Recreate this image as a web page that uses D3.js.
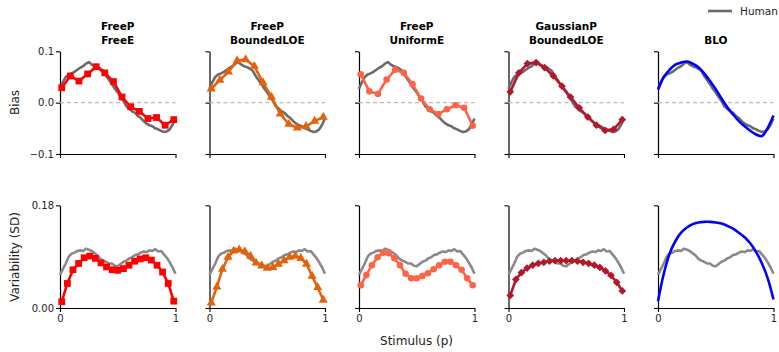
<!DOCTYPE html>
<html><head><meta charset="utf-8">
<script src="https://cdn.jsdelivr.net/npm/d3@7"></script>
<style>body{margin:0;background:#fff} svg{display:block;font-family:"DejaVu Sans",sans-serif}</style>
</head><body><svg id="c" width="779" height="352"></svg>
<script>
// ---------- data ----------
const humanP = [0,0.025,0.05,0.075,0.1,0.125,0.15,0.175,0.2,0.225,0.25,0.275,0.3,0.325,0.35,0.375,0.4,0.425,0.45,0.475,0.5,0.525,0.55,0.575,0.6,0.625,0.65,0.675,0.7,0.725,0.75,0.775,0.8,0.825,0.85,0.875,0.9,0.925,0.95,0.975,1.0];
const humanBias = [0.027,0.040,0.050,0.055,0.057,0.060,0.064,0.068,0.071,0.076,0.079,0.074,0.071,0.069,0.066,0.062,0.052,0.044,0.036,0.027,0.020,0.011,0.003,-0.007,-0.012,-0.017,-0.020,-0.026,-0.030,-0.036,-0.041,-0.044,-0.046,-0.050,-0.052,-0.055,-0.057,-0.056,-0.052,-0.043,-0.031];
const humanSD = [0.058,0.068,0.078,0.090,0.095,0.097,0.100,0.101,0.100,0.104,0.102,0.100,0.096,0.092,0.086,0.083,0.081,0.078,0.078,0.074,0.073,0.077,0.081,0.083,0.087,0.089,0.093,0.094,0.097,0.099,0.098,0.101,0.100,0.103,0.099,0.100,0.094,0.088,0.080,0.071,0.060];

const biasP = [0.015,0.090,0.164,0.239,0.313,0.388,0.463,0.537,0.612,0.687,0.761,0.836,0.910,0.985];
const sdP = [0.015,0.064,0.112,0.161,0.209,0.258,0.306,0.355,0.403,0.452,0.500,0.549,0.597,0.646,0.694,0.743,0.791,0.840,0.888,0.937,0.985];
const bloP = [0,0.05,0.1,0.15,0.2,0.25,0.3,0.35,0.4,0.45,0.5,0.55,0.6,0.65,0.7,0.75,0.8,0.85,0.9,0.95,1.0];

const freeEBias = [0.029,0.052,0.042,0.056,0.070,0.058,0.041,0.011,-0.008,-0.017,-0.031,-0.029,-0.044,-0.033];
const boundedBias = [0.027,0.044,0.060,0.082,0.084,0.071,0.039,0.011,-0.022,-0.042,-0.049,-0.046,-0.036,-0.028];
const uniformBias = [0.055,0.022,0.017,0.045,0.064,0.058,0.036,0.008,-0.013,-0.022,-0.013,-0.005,-0.010,-0.045];
const gaussBias = [0.021,0.058,0.076,0.078,0.068,0.052,0.032,0.011,-0.010,-0.028,-0.044,-0.054,-0.052,-0.033];
const bloBias = [0.025,0.050,0.064,0.074,0.078,0.080,0.076,0.069,0.057,0.042,0.026,0.008,-0.009,-0.023,-0.036,-0.046,-0.055,-0.062,-0.065,-0.049,-0.025];

const freeESD = [0.011,0.043,0.067,0.078,0.088,0.091,0.087,0.079,0.072,0.067,0.066,0.069,0.075,0.082,0.086,0.088,0.084,0.075,0.063,0.043,0.012];
const boundedSD = [0.009,0.037,0.068,0.089,0.100,0.102,0.099,0.091,0.079,0.074,0.070,0.071,0.077,0.083,0.089,0.091,0.087,0.077,0.056,0.036,0.014];
const uniformSD = [0.040,0.058,0.075,0.089,0.097,0.096,0.087,0.075,0.060,0.052,0.052,0.056,0.061,0.068,0.075,0.081,0.081,0.075,0.067,0.052,0.040];
const gaussSD = [0.022,0.050,0.062,0.070,0.075,0.078,0.080,0.082,0.083,0.083,0.083,0.083,0.082,0.080,0.078,0.075,0.071,0.065,0.057,0.045,0.030];
const bloSD = [0.012,0.060,0.095,0.117,0.132,0.141,0.147,0.150,0.151,0.151,0.150,0.148,0.144,0.139,0.132,0.124,0.113,0.098,0.078,0.052,0.015];

const titles = [["FreeP","FreeE"],["FreeP","BoundedLOE"],["FreeP","UniformE"],["GaussianP","BoundedLOE"],["BLO"]];
const biasTicks = [-0.1,0.0,0.1];
const sdTicks = [0.00,0.18];
const xTicks = [0,1];

// ---------- layout ----------
const svg = d3.select("#c");
const colX = [60,209.5,359,508.5,658], pw = 115.5;
const topY0 = 51.3, topY1 = 154, botY0 = 205.3, botY1 = 308;

const models = [
  {bias:freeEBias, sd:freeESD, bp:biasP, sp:sdP, color:"#ff0000", sym:"square"},
  {bias:boundedBias, sd:boundedSD, bp:biasP, sp:sdP, color:"#e3620b", sym:"triangle"},
  {bias:uniformBias, sd:uniformSD, bp:biasP, sp:sdP, color:"#ff6347", sym:"circle"},
  {bias:gaussBias, sd:gaussSD, bp:biasP, sp:sdP, color:"#b2182b", sym:"diamond"},
  {bias:bloBias, sd:bloSD, bp:bloP, sp:bloP, color:"#0000ff", sym:null}
];

function symPath(s){
  if(s==="square") return d3.symbol(d3.symbolSquare, 46)();
  if(s==="triangle") return d3.symbol(d3.symbolTriangle, 36)();
  if(s==="circle") return d3.symbol(d3.symbolCircle, 34)();
  if(s==="diamond") return d3.symbol(d3.symbolSquare, 30)();
}

models.forEach((m,i)=>{
  const x = d3.scaleLinear().domain([0,1]).range([colX[i], colX[i]+pw]);
  const yB = d3.scaleLinear().domain([-0.1,0.1]).range([topY1, topY0]);
  const yS = d3.scaleLinear().domain([0,0.18]).range([botY1, botY0]);

  // axes
  [[yB,biasTicks,topY1,d3.format(".1f")],[yS,sdTicks,botY1,d3.format(".2f")]].forEach(([y,tv,by,fmt],r)=>{
    const ga = svg.append("g").attr("transform",`translate(${colX[i]},0)`)
      .call(d3.axisLeft(y).tickValues(tv).tickSize(4).tickSizeOuter(0).tickPadding(2)
        .tickFormat(i===0 ? (d=>fmt(d).replace("-","\u2212")) : ""));
    const gx = svg.append("g").attr("transform",`translate(0,${by})`)
      .call(d3.axisBottom(x).tickValues(xTicks).tickSize(4).tickSizeOuter(0).tickPadding(3)
        .tickFormat(r===1 ? d3.format("d") : ""));
    [ga,gx].forEach(g=>{
      g.selectAll("path.domain").attr("stroke","#000").attr("stroke-width",1.2);
      g.selectAll(".tick line").attr("stroke","#000").attr("stroke-width",1.1);
      g.selectAll("text").attr("font-size",10).attr("fill","#222").attr("font-family","DejaVu Sans");
    });
  });

  // zero line
  svg.append("line").attr("x1",x(0)).attr("x2",x(1)).attr("y1",yB(0)).attr("y2",yB(0))
    .attr("stroke","#bbbbbb").attr("stroke-width",1.1).attr("stroke-dasharray","4,3");

  // human
  const hb = d3.line().x((d,k)=>x(humanP[k])).y(d=>yB(d));
  const hs = d3.line().x((d,k)=>x(humanP[k])).y(d=>yS(d));
  svg.append("path").attr("d",hb(humanBias)).attr("fill","none").attr("stroke","#6b6b6b").attr("stroke-width",2.6).attr("stroke-linejoin","round");
  svg.append("path").attr("d",hs(humanSD)).attr("fill","none").attr("stroke","#8a8a8a").attr("stroke-width",2.6).attr("stroke-linejoin","round");

  // model
  const curve = m.sym ? d3.curveLinear : d3.curveCatmullRom;
  const lb = d3.line().curve(curve).x((d,k)=>x(m.bp[k])).y(d=>yB(d));
  const ls = d3.line().curve(curve).x((d,k)=>x(m.sp[k])).y(d=>yS(d));
  svg.append("path").attr("d",lb(m.bias)).attr("fill","none").attr("stroke",m.color).attr("stroke-width",2.6).attr("stroke-linejoin","round");
  svg.append("path").attr("d",ls(m.sd)).attr("fill","none").attr("stroke",m.color).attr("stroke-width",2.6).attr("stroke-linejoin","round");
  if(m.sym){
    const rot = m.sym==="diamond" ? " rotate(45)" : "";
    svg.append("g").selectAll("path").data(m.bias).join("path")
      .attr("d",symPath(m.sym)).attr("fill",m.color)
      .attr("transform",(d,k)=>`translate(${x(m.bp[k])},${yB(d)})${rot}`);
    svg.append("g").selectAll("path").data(m.sd).join("path")
      .attr("d",symPath(m.sym)).attr("fill",m.color)
      .attr("transform",(d,k)=>`translate(${x(m.sp[k])},${yS(d)})${rot}`);
  }

  // title
  const t = titles[i];
  const cx = colX[i]+pw/2;
  t.forEach((s,k)=>{
    const base = t.length===2 ? 30+k*14 : 44;
    svg.append("text").attr("x",cx).attr("y",base).attr("text-anchor","middle")
      .attr("font-size",10.5).attr("font-weight","bold").attr("fill","#000").text(s);
  });
});

// axis labels
svg.append("text").attr("transform","translate(19,102.5) rotate(-90)").attr("text-anchor","middle")
  .attr("font-size",12).attr("fill","#222").text("Bias");
svg.append("text").attr("transform","translate(19,257) rotate(-90)").attr("text-anchor","middle")
  .attr("font-size",12).attr("fill","#222").text("Variability (SD)");
svg.append("text").attr("x",416.5).attr("y",345).attr("text-anchor","middle")
  .attr("font-size",12).attr("fill","#222").text("Stimulus (p)");

// legend
svg.append("line").attr("x1",708).attr("x2",732).attr("y1",11).attr("y2",11).attr("stroke","#6b6b6b").attr("stroke-width",2.6);
svg.append("text").attr("x",740).attr("y",14.5).attr("font-size",10.5).attr("fill","#222").text("Human");
</script></body></html>
